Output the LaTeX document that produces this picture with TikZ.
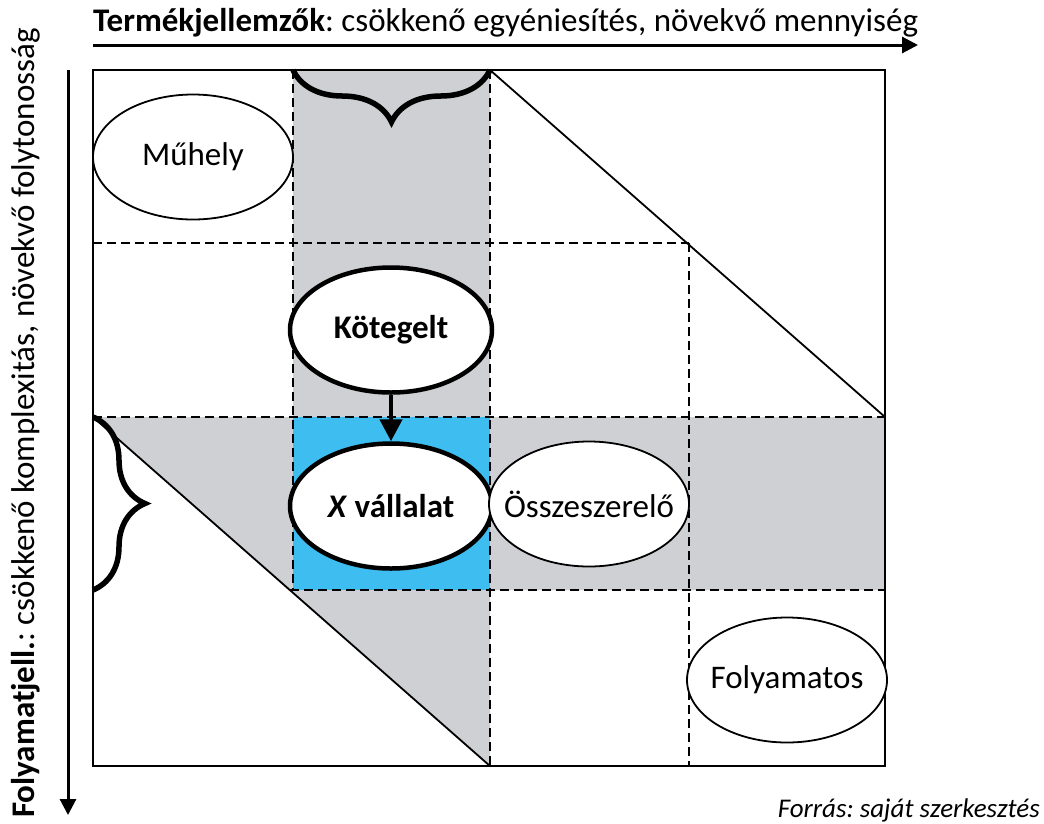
\documentclass[tikz,border=0pt]{standalone}
\usepackage{fontspec}
\setmainfont{Carlito}
\usetikzlibrary{arrows.meta,shapes.geometric,decorations.pathreplacing}
\definecolor{bandgray}{RGB}{206,208,211}
\definecolor{firmblue}{RGB}{62,190,240}
\newcommand{\ovaltext}[1]{\makebox[0pt]{#1}}
\frenchspacing

\begin{document}
\begin{tikzpicture}[x=1pt,y=-1pt,
  cell/.style={ellipse,draw,fill=white,line width=1.8pt,minimum width=200pt,minimum height=125pt,inner sep=0pt,font=\fontsize{33}{38}\selectfont},
  keycell/.style={cell,line width=4.5pt,minimum width=202pt,font=\fontsize{33}{38}\selectfont\bfseries},
  grid/.style={line width=2.2pt,dash pattern=on 9pt off 5pt},
  axis/.style={line width=3pt,-{Triangle[length=16pt,width=16pt]}},
  curly/.style={decorate,decoration={brace,amplitude=52pt},line width=5.5pt}]
\useasboundingbox (0,0) rectangle (1044,823);
% shaded strips and the firm's cell
\fill[bandgray] (293,70) rectangle (490,417);
\fill[bandgray] (93,417) -- (885,417) -- (885,590) -- (490,590) -- (490,766) -- cycle;
\fill[firmblue] (293,417) rectangle (490,590);
\draw[grid] (293,70) -- (293,590);
\draw[grid] (490,70) -- (490,766);
\draw[grid] (689,243) -- (689,766);
\draw[grid] (93,243) -- (689,243);
\draw[grid] (93,417) -- (885,417);
\draw[grid] (290,590) -- (885,590);
\draw[line width=1.8pt] (490,70) -- (885,417);
\draw[line width=1.8pt] (93,417) -- (490,766);
\draw[line width=2.5pt] (93,70) rectangle (885,766);
\draw[curly] (490,70) -- (293,70);
\draw[curly] (93,417) -- (93,590);
% process types
\node[cell] (muhely) at (193,157) {\ovaltext{Műhely}};
\node[keycell] (koteg) at (391,330) {\ovaltext{Kötegelt}};
\node[keycell] (xvall) at (391,506) {\ovaltext{\textit{X} vállalat}};
\node[cell] (ossze) at (589,504) {\ovaltext{Összeszerelő}};
\node[cell] (folyam) at (787,680) {\ovaltext{Folyamatos}};
\draw[line width=4.5pt,-{Triangle[length=22pt,width=22pt]}] (koteg) -- (xvall);
% axes
\node[anchor=base west,inner sep=0pt,font=\fontsize{33}{38}\selectfont] (termek) at (93,31)
  {\textbf{Termékjellemzők}: csökkenő egyéniesítés, növekvő mennyiség};
\node[anchor=base west,rotate=90,inner sep=0pt,font=\fontsize{33}{38}\selectfont] (folyamat) at (34,818)
  {\textbf{Folyamatjell.}: csökkenő komplexitás, növekvő folytonosság};
\coordinate (xs) at (93,45);
\coordinate (xe) at (918,45);
\coordinate (ys) at (68,70);
\coordinate (ye) at (68,815);
\draw[axis] (xs) -- (xe);
\draw[axis] (ys) -- (ye);
\node[anchor=base east,inner sep=0pt,font=\fontsize{27}{32}\selectfont\itshape] (forras) at (1040,817)
  {Forrás: saját szerkesztés};
\end{tikzpicture}
\end{document}
